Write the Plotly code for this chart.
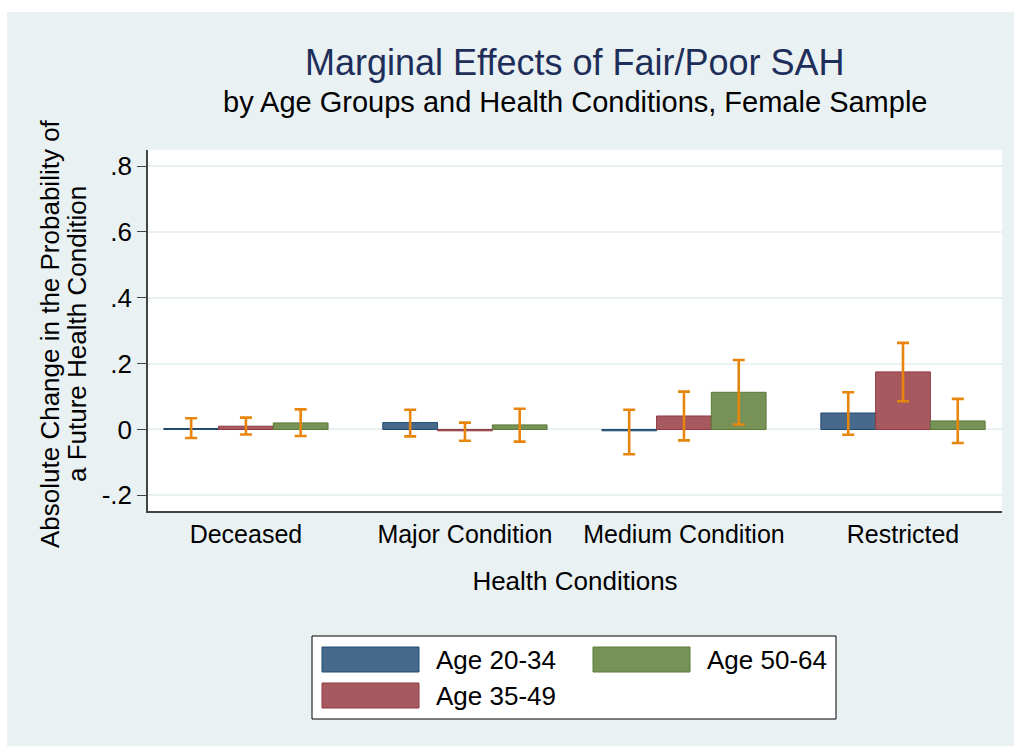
import plotly.graph_objects as go

categories = ["Deceased", "Major Condition", "Medium Condition", "Restricted"]
age_groups = ["Age 20-34", "Age 35-49", "Age 50-64"]

# marginal effects and 95% CI bounds per age group
effect_20_34 = [0.003, 0.021, -0.004, 0.050]
lower_20_34 = [-0.026, -0.021, -0.075, -0.016]
upper_20_34 = [0.034, 0.060, 0.060, 0.113]

effect_35_49 = [0.010, -0.004, 0.041, 0.175]
lower_35_49 = [-0.015, -0.034, -0.033, 0.086]
upper_35_49 = [0.036, 0.021, 0.115, 0.263]

effect_50_64 = [0.020, 0.014, 0.113, 0.026]
lower_50_64 = [-0.020, -0.037, 0.015, -0.041]
upper_50_64 = [0.061, 0.063, 0.211, 0.093]

y_tickvals = [-0.2, 0, 0.2, 0.4, 0.6, 0.8]
y_ticktext = ["-.2", "0", ".2", ".4", ".6", ".8"]
y_title_lines = ["Absolute Change in the Probability of", "a Future Health Condition"]

FONT = "Liberation Sans, Arial, sans-serif"
BG = "#EAF1F3"
ORANGE = "#E8850C"
FILLS = ["#476A8C", "#A65A5F", "#779256"]
LINES = ["#1F4A70", "#903A40", "#5A7A36"]

# plot area in pixels (for placing titles and the hand-drawn legend)
L, R, T, B = 148, 1002, 150, 511


def px_x(px):
    return (px - L) / (R - L)


def px_y(py):
    return (B - py) / (B - T)


fig = go.Figure()
series = [
    (effect_20_34, lower_20_34, upper_20_34),
    (effect_35_49, lower_35_49, upper_35_49),
    (effect_50_64, lower_50_64, upper_50_64),
]
for i, (eff, lo, hi) in enumerate(series):
    fig.add_trace(go.Bar(
        name=age_groups[i], x=categories, y=eff,
        marker=dict(color=FILLS[i], line=dict(color=LINES[i], width=1)),
        error_y=dict(
            type="data", symmetric=False,
            array=[h - e for h, e in zip(hi, eff)],
            arrayminus=[e - l for e, l in zip(eff, lo)],
            color=ORANGE, thickness=2.6, width=6,
        ),
        showlegend=False,
    ))

fig.update_layout(
    width=1014, height=746,
    margin=dict(l=L, r=1014 - R, t=T, b=746 - B),
    paper_bgcolor=BG, plot_bgcolor="white",
    font=dict(family=FONT, size=25, color="black"),
    barmode="group", bargap=0.25, bargroupgap=0,
)
fig.update_xaxes(
    range=[-0.447, 3.452], showline=True, linecolor="#444", linewidth=1.5,
    ticks="", showgrid=False,
    title=dict(text="Health Conditions", standoff=25, font=dict(size=26)),
)
fig.update_yaxes(
    range=[-0.2476, 0.849], tickvals=y_tickvals, ticktext=y_ticktext,
    showline=True, linecolor="#444", linewidth=1.5,
    ticks="outside", ticklen=9, tickcolor="#444", tickwidth=1.2,
    tickfont=dict(size=26),
    showgrid=True, gridcolor=BG, gridwidth=2, zeroline=False,
)

# y-axis title, two lines
for text, xpx in zip(y_title_lines, [50, 77]):
    fig.add_annotation(text=text, xref="paper", yref="paper", textangle=-90,
                       x=px_x(xpx), y=px_y(334), xanchor="center", yanchor="middle",
                       showarrow=False, font=dict(size=26, color="black"))

# titles
fig.add_annotation(text="Marginal Effects of Fair/Poor SAH", xref="paper", yref="paper",
                   x=0.5, y=px_y(62), yanchor="middle", showarrow=False,
                   font=dict(size=36, color="#1E2E5A"))
fig.add_annotation(text="by Age Groups and Health Conditions, Female Sample",
                   xref="paper", yref="paper", x=0.5, y=px_y(102), yanchor="middle",
                   showarrow=False, font=dict(size=29, color="black"))

# white page strips around the graph region
fig.add_shape(type="rect", xref="paper", yref="paper", layer="above",
              x0=px_x(0), x1=px_x(1014), y0=px_y(12), y1=px_y(0),
              fillcolor="white", line_width=0)
fig.add_shape(type="rect", xref="paper", yref="paper", layer="above",
              x0=px_x(0), x1=px_x(7), y0=px_y(746), y1=px_y(0),
              fillcolor="white", line_width=0)

# legend box drawn by hand (Stata style, column-first order)
fig.add_shape(type="rect", xref="paper", yref="paper",
              x0=px_x(312), x1=px_x(836), y0=px_y(719), y1=px_y(636),
              fillcolor="white", line=dict(color="black", width=1))
legend_slots = [(322, 647), (322, 683), (593, 647)]
for i, (sx, sy) in enumerate(legend_slots):
    fig.add_shape(type="rect", xref="paper", yref="paper",
                  x0=px_x(sx), x1=px_x(sx + 97), y0=px_y(sy + 25), y1=px_y(sy),
                  fillcolor=FILLS[i], line=dict(color=LINES[i], width=1))
    fig.add_annotation(text=age_groups[i], xref="paper", yref="paper",
                       x=px_x(sx + 112), y=px_y(sy + 13), xanchor="left", yanchor="middle",
                       showarrow=False, font=dict(size=26, color="black"))

fig.write_html("out.html", config={"displayModeBar": False},
               post_script="document.body.style.margin='0';")
